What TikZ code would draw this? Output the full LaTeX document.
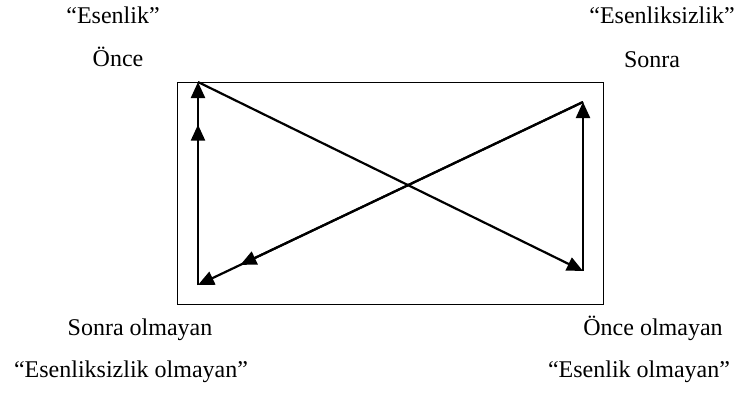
\documentclass[tikz,border=0pt]{standalone}
\usepackage{fontspec}
\setmainfont{Liberation Serif}
\usetikzlibrary{arrows.meta,positioning,calc}

\begin{document}
\begin{tikzpicture}[x=1pt, y=-1pt,
  lbl/.style={font=\fontsize{24}{28}\selectfont, inner sep=0pt, anchor=base},
  arr/.style={-{Triangle[length=16pt, width=14pt]}, line width=2.2pt, black},
  frame/.style={draw=black, line width=1pt},
]
\useasboundingbox (0,0) rectangle (737,394);

%% ---- cerceve ----
\draw[frame] (177,82) rectangle (603,304);

%% ---- koseler ----
\coordinate (once)   at (198, 82);
\coordinate (sonra)  at (583,102);
\coordinate (sonrao) at (198,285);
\coordinate (onceo)  at (583,271);

%% ---- etiketler ----
\node[lbl] (es)   at (113, 23) {“Esenlik”};
\node[lbl] (on)   at (118, 66) {Önce};
\node[lbl] (ess)  at (662, 23) {“Esenliksizlik”};
\node[lbl] (so)   at (652, 67) {Sonra};
\node[lbl] (so2)  at (140,335) {Sonra olmayan};
\node[lbl] (ess2) at (131,377) {“Esenliksizlik olmayan”};
\node[lbl] (on2)  at (653,335) {Önce olmayan};
\node[lbl] (es2)  at (639,377) {“Esenlik olmayan”};

%% ---- oklar ----
% capraz: once -> once olmayan
\draw[arr] (once) -- (onceo);
% sag kenar: once olmayan -> sonra
\draw[arr] (onceo) -- (sonra);
% capraz: sonra -> sonra olmayan (ortada ikinci uc)
\draw[arr] (sonra) -- ($(sonra)!0.89!(sonrao)$);
\draw[arr] (sonra) -- (sonrao);
% sol kenar: sonra olmayan -> once (ortada ikinci uc)
\draw[arr] (sonrao) -- ($(sonrao)!0.79!(once)$);
\draw[arr] (sonrao) -- (once);

\end{tikzpicture}
\end{document}
